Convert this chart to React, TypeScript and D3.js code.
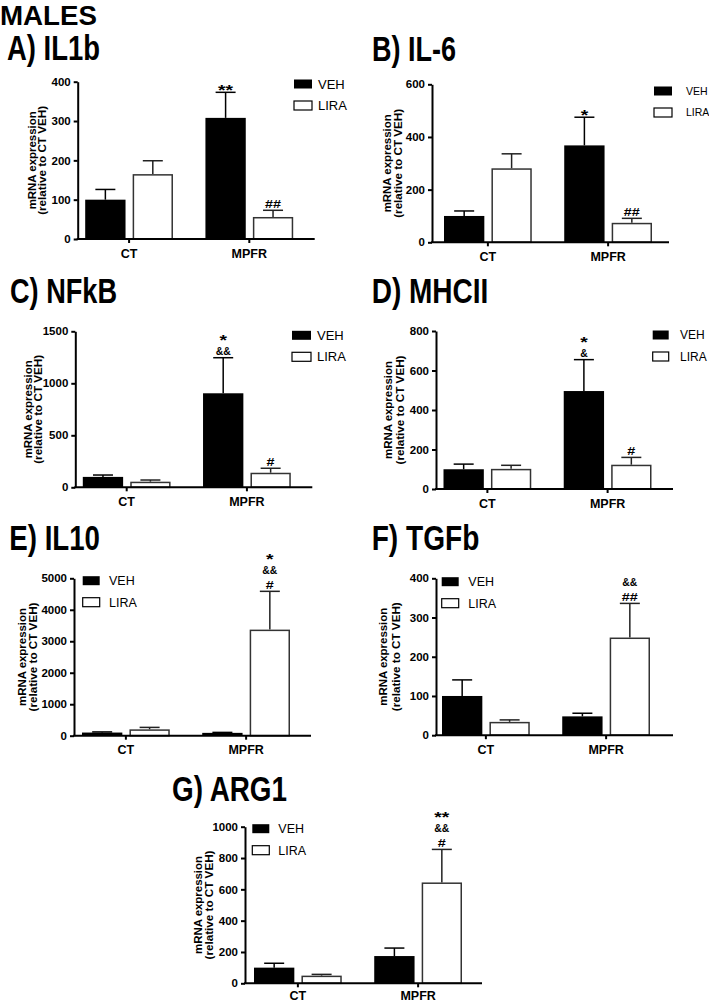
import { useRef, useEffect } from 'react';
import { select, scaleLinear, scaleBand, axisLeft } from 'd3';

// groups on the x axis and the two treatments
const categories = ['CT', 'MPFR'];
const groups = ['VEH', 'LIRA'];

// mRNA expression relative to CT VEH: mean and upper SEM, order [CT, MPFR]
const il1bVeh = [100, 308];
const il1bVehSem = [26, 65];
const il1bLira = [165, 56];
const il1bLiraSem = [34, 17];
const il1bTicks = [0, 100, 200, 300, 400];

const il6Veh = [100, 368];
const il6VehSem = [19, 107];
const il6Lira = [281, 74];
const il6LiraSem = [55, 17];
const il6Ticks = [0, 200, 400, 600];

const nfkbVeh = [100, 904];
const nfkbVehSem = [18, 342];
const nfkbLira = [54, 140];
const nfkbLiraSem = [16, 43];
const nfkbTicks = [0, 500, 1000, 1500];

const mhcVeh = [100, 496];
const mhcVehSem = [26, 159];
const mhcLira = [102, 123];
const mhcLiraSem = [18, 37];
const mhcTicks = [0, 200, 400, 600, 800];

const il10Veh = [100, 90];
const il10VehSem = [20, 15];
const il10Lira = [202, 3370];
const il10LiraSem = [62, 1216];
const il10Ticks = [0, 1000, 2000, 3000, 4000, 5000];

const tgfVeh = [100, 48];
const tgfVehSem = [41, 8];
const tgfLira = [34, 249];
const tgfLiraSem = [5, 87];
const tgfTicks = [0, 100, 200, 300, 400];

const argVeh = [100, 174];
const argVehSem = [28, 51];
const argLira = [49, 644];
const argLiraSem = [8, 211];
const argTicks = [0, 200, 400, 600, 800, 1000];

// significance marks: [category, group, lines from bottom to top]
const il1bMarks: [string, string, string[]][] = [['MPFR', 'VEH', ['**']], ['MPFR', 'LIRA', ['##']]];
const il6Marks: [string, string, string[]][] = [['MPFR', 'VEH', ['*']], ['MPFR', 'LIRA', ['##']]];
const nfkbMarks: [string, string, string[]][] = [['MPFR', 'VEH', ['&&', '*']], ['MPFR', 'LIRA', ['#']]];
const mhcMarks: [string, string, string[]][] = [['MPFR', 'VEH', ['&', '*']], ['MPFR', 'LIRA', ['#']]];
const il10Marks: [string, string, string[]][] = [['MPFR', 'LIRA', ['#', '&&', '*']]];
const tgfMarks: [string, string, string[]][] = [['MPFR', 'LIRA', ['##', '&&']]];
const argMarks: [string, string, string[]][] = [['MPFR', 'LIRA', ['#', '&&', '**']]];

const titles = ['A) IL1b', 'B) IL-6', 'C) NFkB', 'D) MHCII', 'E) IL10', 'F) TGFb', 'G) ARG1'];

const panels = [
  { veh: il1bVeh, vehSem: il1bVehSem, lira: il1bLira, liraSem: il1bLiraSem, ticks: il1bTicks, marks: il1bMarks },
  { veh: il6Veh, vehSem: il6VehSem, lira: il6Lira, liraSem: il6LiraSem, ticks: il6Ticks, marks: il6Marks },
  { veh: nfkbVeh, vehSem: nfkbVehSem, lira: nfkbLira, liraSem: nfkbLiraSem, ticks: nfkbTicks, marks: nfkbMarks },
  { veh: mhcVeh, vehSem: mhcVehSem, lira: mhcLira, liraSem: mhcLiraSem, ticks: mhcTicks, marks: mhcMarks },
  { veh: il10Veh, vehSem: il10VehSem, lira: il10Lira, liraSem: il10LiraSem, ticks: il10Ticks, marks: il10Marks },
  { veh: tgfVeh, vehSem: tgfVehSem, lira: tgfLira, liraSem: tgfLiraSem, ticks: tgfTicks, marks: tgfMarks },
  { veh: argVeh, vehSem: argVehSem, lira: argLira, liraSem: argLiraSem, ticks: argTicks, marks: argMarks },
];

// placement of each panel on the page
const layout = [
  { x0: 77.7, top: 81.7, bottom: 239, lead: 7.5, tx: 7, ty: 60, tw: 93, lx: 294, lw: 18, ly: 84, ltx: 318, lfs: 13, yl: [-45.7, -35.7] },
  { x0: 432, top: 84.3, bottom: 242.3, lead: 12, tx: 372, ty: 60.7, tw: 84, lx: 654, lw: 18, ly: 91, ltx: 686, lfs: 10.5, yl: [-45.3, -34.3] },
  { x0: 75.3, top: 331.3, bottom: 487.3, lead: 7.5, tx: 10, ty: 303, tw: 107, lx: 292, lw: 19, ly: 335.3, ltx: 317, lfs: 13, yl: [-47, -37] },
  { x0: 436, top: 331, bottom: 489, lead: 7.5, tx: 371.7, ty: 303.3, tw: 116.7, lx: 652.7, lw: 16, ly: 335, ltx: 680, lfs: 12, yl: [-47.7, -36] },
  { x0: 74, top: 578.3, bottom: 735.7, lead: 8, tx: 9.3, ty: 550, tw: 90.7, lx: 82.7, lw: 17, ly: 580.7, ltx: 109, lfs: 12.5, yl: [-52, -41] },
  { x0: 436, top: 578.3, bottom: 735.2, lead: 6, tx: 371.7, ty: 550, tw: 107.7, lx: 441.7, lw: 17, ly: 581.7, ltx: 468.3, lfs: 12.5, yl: [-52.7, -40] },
  { x0: 245, top: 826.7, bottom: 983.3, lead: 9, tx: 172, ty: 800.7, tw: 115, lx: 252.3, lw: 17, ly: 828.7, ltx: 278.3, lfs: 12.5, yl: [-47, -36] },
];

const FONT = '"Liberation Sans", Arial, Helvetica, sans-serif';

// glyph look of the significance symbols
function markStyle(s: string) {
  if (s.includes('*')) return { fs: 15, per: 7.5, lift: 8.5 };
  if (s.includes('&')) return { fs: 10, per: 7.5, lift: 3.6 };
  return { fs: 10.5, per: 8, lift: 3.8 };
}

export default function App() {
  const svgRef = useRef<SVGSVGElement>(null);

  useEffect(() => {
    if (!svgRef.current) return;
    const svg = select(svgRef.current);
    svg.selectAll('*').remove();

    svg.append('rect').attr('width', 709).attr('height', 1001).attr('fill', '#fff');

    svg.append('text').attr('x', 0).attr('y', 25)
      .attr('font-family', FONT).attr('font-weight', 'bold').attr('font-size', 28)
      .attr('textLength', 97).attr('lengthAdjust', 'spacingAndGlyphs')
      .text('MALES');

    panels.forEach((p, i) => {
      const L = layout[i];
      const g = svg.append('g').attr('font-family', FONT);

      // title
      g.append('text').attr('x', L.tx).attr('y', L.ty)
        .attr('font-weight', 'bold').attr('font-size', 35)
        .attr('textLength', L.tw).attr('lengthAdjust', 'spacingAndGlyphs')
        .text(titles[i]);

      const yMax = p.ticks[p.ticks.length - 1];
      const y = scaleLinear().domain([0, yMax]).range([L.bottom, L.top]);
      const x = scaleBand<string>().domain(categories)
        .range([L.x0 + L.lead, L.x0 + L.lead + 208]).paddingInner(0.27).paddingOuter(0);
      const xi = scaleBand<string>().domain(groups).range([0, x.bandwidth()]).paddingInner(0.15);
      const xEnd = L.x0 + 237;

      const rows = categories.flatMap((c, ci) => [
        { c, grp: 'VEH', v: p.veh[ci], e: p.vehSem[ci] },
        { c, grp: 'LIRA', v: p.lira[ci], e: p.liraSem[ci] },
      ]);

      // error bars (upper only)
      rows.forEach(d => {
        const cx = (x(d.c) ?? 0) + (xi(d.grp) ?? 0) + xi.bandwidth() / 2;
        const col = d.grp === 'VEH' ? '#000' : '#222';
        g.append('line').attr('x1', cx).attr('x2', cx).attr('y1', y(d.v)).attr('y2', y(d.v + d.e))
          .attr('stroke', col).attr('stroke-width', 1.5);
        g.append('line').attr('x1', cx - 10).attr('x2', cx + 10).attr('y1', y(d.v + d.e)).attr('y2', y(d.v + d.e))
          .attr('stroke', col).attr('stroke-width', 1.5);
      });

      // bars
      rows.forEach(d => {
        const bx = (x(d.c) ?? 0) + (xi(d.grp) ?? 0);
        if (d.grp === 'VEH') {
          g.append('rect').attr('x', bx).attr('y', y(d.v)).attr('width', xi.bandwidth())
            .attr('height', y(0) - y(d.v)).attr('fill', '#000');
        } else {
          g.append('rect').attr('x', bx + 0.75).attr('y', y(d.v) + 0.75).attr('width', xi.bandwidth() - 1.5)
            .attr('height', Math.max(0, y(0) - y(d.v) - 0.75)).attr('fill', '#fff')
            .attr('stroke', '#333').attr('stroke-width', 1.5);
        }
      });

      // y axis
      const ya = g.append('g').attr('transform', `translate(${L.x0},0)`)
        .call(axisLeft(y).tickValues(p.ticks).tickSize(4).tickSizeOuter(0).tickPadding(3).tickFormat(d => String(d)) as any);
      ya.select('.domain').attr('stroke', '#000').attr('stroke-width', 2);
      ya.selectAll('.tick line').attr('stroke', '#000').attr('stroke-width', 2);
      ya.selectAll('.tick text').attr('fill', '#000').attr('font-family', FONT)
        .attr('font-weight', 'bold').attr('font-size', 11.5);

      // x axis
      g.append('line').attr('x1', L.x0 - 1).attr('x2', xEnd).attr('y1', L.bottom).attr('y2', L.bottom)
        .attr('stroke', '#000').attr('stroke-width', 2);
      categories.forEach(c => {
        const cx = (x(c) ?? 0) + x.bandwidth() / 2;
        g.append('line').attr('x1', cx).attr('x2', cx).attr('y1', L.bottom).attr('y2', L.bottom + 4)
          .attr('stroke', '#000').attr('stroke-width', 2);
        g.append('text').attr('x', cx).attr('y', Math.min(L.bottom + 18.5, 999.5)).attr('text-anchor', 'middle')
          .attr('font-weight', 'bold').attr('font-size', 12.5).text(c);
      });

      // y label
      const midY = (L.top + L.bottom) / 2;
      const ylabLen = [98, 109];
      ['mRNA expression', '(relative to CT VEH)'].forEach((t, k) => {
        g.append('text').attr('transform', `translate(${L.x0 + L.yl[k] + 4},${midY}) rotate(-90)`)
          .attr('text-anchor', 'middle').attr('font-weight', 'bold').attr('font-size', 11.3)
          .attr('textLength', ylabLen[k]).attr('lengthAdjust', 'spacingAndGlyphs').text(t);
      });

      // legend
      groups.forEach((grp, k) => {
        const cy = L.ly + k * 21.5;
        g.append('rect').attr('x', L.lx).attr('y', cy - 4.5).attr('width', L.lw).attr('height', 9)
          .attr('fill', grp === 'VEH' ? '#000' : '#fff').attr('stroke', '#000')
          .attr('stroke-width', grp === 'VEH' ? 0 : 1.2);
        g.append('text').attr('x', L.ltx).attr('y', cy + L.lfs * 0.36).attr('font-size', L.lfs).text(grp);
      });

      // significance marks
      p.marks.forEach(([c, grp, lines]) => {
        const ci = categories.indexOf(c);
        const v = grp === 'VEH' ? p.veh[ci] + p.vehSem[ci] : p.lira[ci] + p.liraSem[ci];
        const cx = (x(c) ?? 0) + (xi(grp) ?? 0) + xi.bandwidth() / 2;
        lines.forEach((s, k) => {
          const center = y(v) - 6 - k * 15;
          const m = markStyle(s);
          g.append('text').attr('x', cx).attr('y', center + m.lift).attr('text-anchor', 'middle')
            .attr('font-weight', 'bold').attr('font-size', m.fs)
            .attr('textLength', m.per * s.length).attr('lengthAdjust', 'spacingAndGlyphs').text(s);
        });
      });
    });
  }, []);

  return (
    <svg ref={svgRef} width={709} height={1001}
      style={{ position: 'absolute', left: 0, top: 0, display: 'block' }} />
  );
}
